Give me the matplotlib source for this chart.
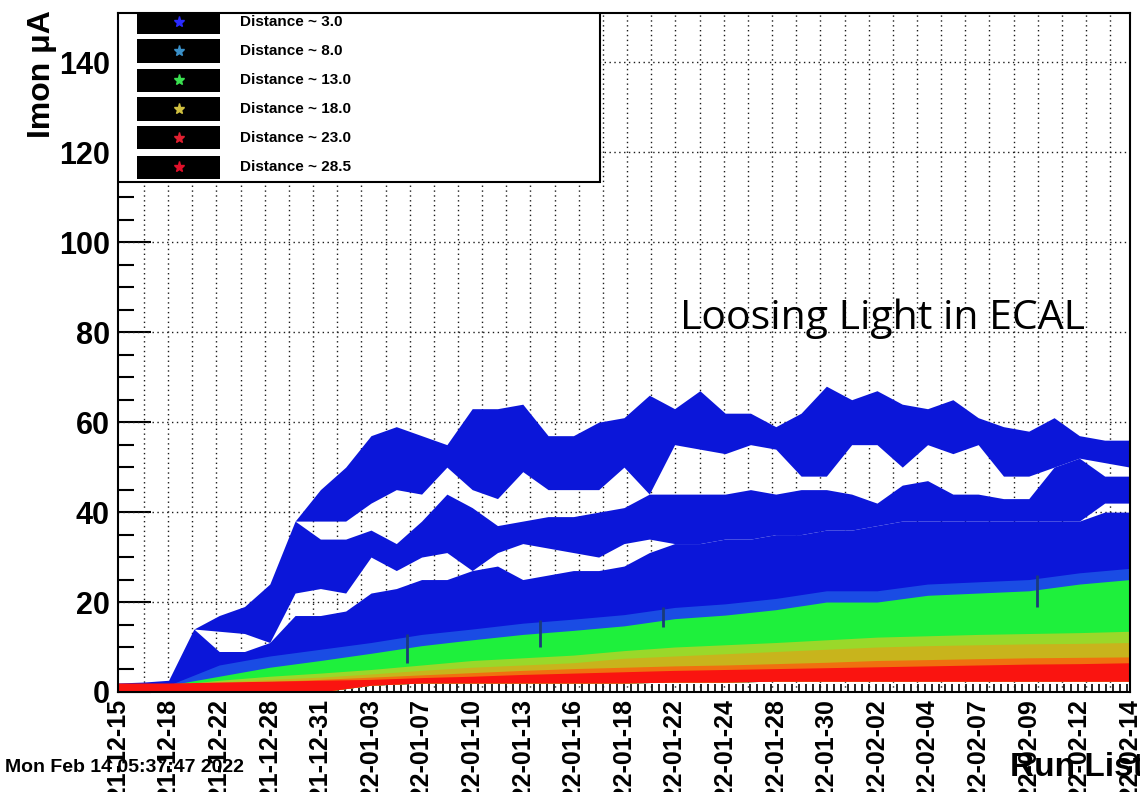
import numpy as np
import matplotlib.pyplot as plt
from matplotlib.patches import Rectangle
from matplotlib.ticker import FixedLocator, MultipleLocator

plt.rcParams['font.family'] = ['Liberation Sans', 'DejaVu Sans']

# x axis: one label every run block
run_dates = ["2021-12-15", "2021-12-18", "2021-12-22", "2021-12-28", "2021-12-31",
             "2022-01-03", "2022-01-07", "2022-01-10", "2022-01-13", "2022-01-16",
             "2022-01-18", "2022-01-22", "2022-01-24", "2022-01-28", "2022-01-30",
             "2022-02-02", "2022-02-04", "2022-02-07", "2022-02-09", "2022-02-12",
             "2022-02-14"]
distances = ["3.0", "8.0", "13.0", "18.0", "23.0", "28.5"]
legend_colors = ["#2a2aff", "#3a90c8", "#3ae050", "#d0c040", "#e02030", "#e0102a"]

# Distance ~ 3.0 cloud (blue), read every half label step
x_fine = np.arange(41) * 0.5
blue_up_hi = [2.0, 2.2, 2.6, 14, 17, 19, 24, 38, 45, 50, 57, 59, 57, 55, 63, 63, 64, 57, 57, 60,
              61, 66, 63, 67, 62, 62, 59, 62, 68, 65, 67, 64, 63, 65, 61, 59, 58, 61, 57, 56, 56]
blue_up_lo = [2.0, 2.2, 2.6, 14, 17, 19, 24, 38, 38, 38, 42, 45, 44, 50, 45, 43, 49, 45, 45, 45,
              50, 44, 55, 54, 53, 55, 54, 48, 48, 55, 55, 50, 55, 53, 55, 48, 48, 50, 52, 51, 50]
blue_mid_hi = [2.0, 2.2, 2.6, 14, 17, 19, 24, 38, 34, 34, 36, 33, 38, 44, 41, 37, 38, 39, 39, 40,
               41, 44, 44, 44, 44, 45, 44, 45, 45, 44, 42, 46, 47, 44, 44, 43, 43, 50, 52, 48, 48]
blue_mid_lo = [2.0, 2.2, 2.6, 14, 13.5, 13, 11, 22, 23, 22, 30, 27, 30, 31, 27, 31, 33, 32, 31, 30,
               33, 34, 33, 33, 34, 34, 35, 35, 36, 36, 37, 38, 38, 38, 38, 38, 38, 38, 38, 42, 42]
blue_base = [2.0, 2.2, 2.6, 14, 9, 9, 11, 17, 17, 18, 22, 23, 25, 25, 27, 28, 25, 26, 27, 27,
             28, 31, 33, 33, 34, 34, 35, 35, 36, 36, 37, 38, 38, 38, 38, 38, 38, 38, 38, 40, 40]

# lower distances, read at every labelled run
x_coarse = np.arange(21)
lightblue_top = [1.0, 1.5, 6, 8, 9.5, 11, 12.8, 14, 15.3, 16.2, 17.2, 18.8, 19.6, 20.8, 22.5,
                 22.5, 24, 24.5, 25, 26.5, 27.5]
green_top = [1.0, 1.5, 3.5, 5.5, 7, 8.6, 10.3, 11.6, 12.8, 13.7, 14.7, 16.3, 17.1, 18.3, 20,
             20, 21.5, 22, 22.5, 24, 25]
yellowgreen_top = [1.0, 1.5, 2.6, 3.5, 4.2, 5.0, 6.0, 7.0, 7.6, 8.2, 9.2, 10.0, 10.5, 11.0,
                   11.6, 12.2, 12.5, 12.8, 13.0, 13.2, 13.5]
olive_top = [1.0, 1.5, 2.2, 2.8, 3.3, 4.0, 4.8, 5.5, 6.0, 6.5, 7.5, 8.0, 8.5, 9.0, 9.5, 10.0,
             10.3, 10.5, 10.7, 10.8, 11.0]
orange_top = [0.8, 1.2, 1.8, 2.3, 2.8, 3.3, 3.8, 4.3, 4.8, 5.2, 5.5, 5.8, 6.0, 6.3, 6.6, 7.0,
              7.2, 7.4, 7.6, 7.7, 7.8]
red_top = [2.0, 2.0, 2.2, 2.4, 2.6, 2.8, 3.2, 3.5, 3.9, 4.2, 4.5, 4.8, 5.0, 5.2, 5.4, 5.6,
           5.8, 6.0, 6.2, 6.3, 6.5]
red_bottom = [0, 0, 0, 0, 0, 1.5, 2.0, 2.0, 2.0, 2.0, 2.0, 2.2, 2.2, 2.4, 2.4, 2.4, 2.4, 2.4,
              2.4, 2.4, 2.4]

# single runs where the blue channels drop
dip_x = [5.71, 8.34, 10.77, 18.16]
dip_lo = [6.5, 10, 14.5, 19]
dip_hi = [13, 16, 19, 26]

fig = plt.figure(figsize=(11.4, 7.92), dpi=100)
ax = fig.add_axes([0.1035, 0.1263, 0.8877, 0.8573])
ax.set_xlim(0, 20)
ax.set_ylim(0, 151)
ax.set_axisbelow(True)

# dotted grid
grid_x = np.linspace(0.514, 19.61, 41)
ax.vlines(grid_x, 0, 151, colors='#1a1a1a', linestyles=(0, (1, 2.5)), linewidth=1, zorder=0.6)
ax.hlines(np.arange(20, 141, 20), 0, 20, colors='#1a1a1a', linestyles=(0, (1, 2.5)),
          linewidth=1, zorder=0.6)

# nothing is drawn below the lowest points, so the bin ticks stay visible there
floor_fine = np.interp(x_fine, x_coarse, red_bottom)

blue = "#0b16d9"
ax.fill_between(x_fine, floor_fine, blue_base, color=blue, lw=0, zorder=1)
ax.fill_between(x_fine, blue_mid_lo, blue_mid_hi, color=blue, lw=0, zorder=1)
ax.fill_between(x_fine, blue_up_lo, blue_up_hi, color=blue, lw=0, zorder=1)

bands = [(lightblue_top, "#1a4ce4"), (green_top, "#1ef03c"), (yellowgreen_top, "#9ad82a"),
         (olive_top, "#c8b41c"), (orange_top, "#f0700f"), (red_top, "#fa1410")]
for i, (top, col) in enumerate(bands):
    ax.fill_between(x_coarse, red_bottom, top, color=col, lw=0, zorder=2 + 0.1 * i)

ax.vlines(dip_x, dip_lo, dip_hi, colors="#1a3c7a", linewidth=2, zorder=3)

for s in ax.spines.values():
    s.set_linewidth(1.5)
    s.set_zorder(5)

ax.set_xticks(x_coarse)
ax.set_xticklabels(run_dates, rotation=90, fontsize=18, fontweight='bold')
ax.tick_params(axis='x', which='major', length=0, pad=5)
ax.xaxis.set_minor_locator(FixedLocator(np.arange(0.07, 20, 0.138)))
ax.tick_params(axis='x', which='minor', direction='in', length=6, width=1.2)

ax.set_yticks(np.arange(0, 141, 20))
ax.yaxis.set_minor_locator(MultipleLocator(5))
ax.tick_params(axis='y', which='major', direction='in', length=24, width=1.5, pad=6,
               labelsize=22)
for t in ax.get_yticklabels():
    t.set_fontweight('bold')
ax.tick_params(axis='y', which='minor', direction='in', length=11.5, width=1.5)

# legend box
ax.add_patch(Rectangle((0, 0.751), 0.476, 0.249, transform=ax.transAxes, facecolor='white',
                       edgecolor='black', lw=1.5, zorder=10))
entry_y = [0.9867, 0.944, 0.901, 0.8586, 0.816, 0.773]
for yy, d, c in zip(entry_y, distances, legend_colors):
    ax.add_patch(Rectangle((0.0188, yy - 0.017), 0.082, 0.034, transform=ax.transAxes,
                           facecolor='black', edgecolor='none', zorder=11))
    ax.plot([0.06], [yy], marker='*', color=c, markersize=8, transform=ax.transAxes,
            zorder=12, clip_on=False)
    ax.text(0.1206, yy, "Distance ~ " + d, transform=ax.transAxes, fontsize=11,
            fontweight='bold', va='center', zorder=12)

fig.text(42 / 1140, 1 - 10 / 792, "Imon μA", rotation=90, ha='center', va='top',
         fontsize=23, fontweight='bold')
fig.text(680 / 1140, 1 - 329 / 792, "Loosing Light in ECAL", fontsize=29.5,
         family=['Open Sans', 'DejaVu Sans'], va='baseline', ha='left')
fig.text(5 / 1140, 1 - 767 / 792, "Mon Feb 14 05:37:47 2022", fontsize=14,
         fontweight='bold', va='center', zorder=0)
fig.text(1010 / 1140, 1 - 767 / 792, "Run List", fontsize=24, fontweight='bold',
         va='center', zorder=0)

fig.savefig("out.png", dpi=100)
